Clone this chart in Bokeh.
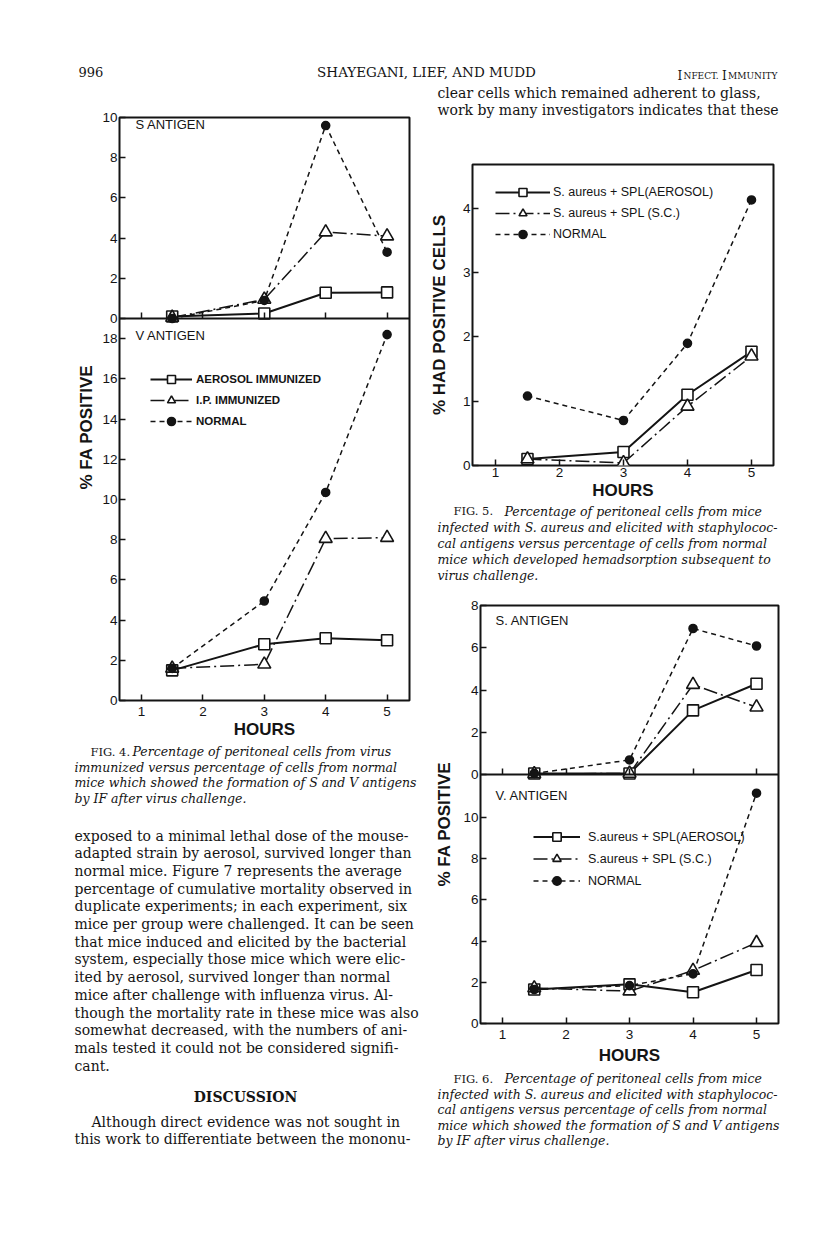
from bokeh.plotting import figure
from bokeh.models import Range1d, LinearAxis, FixedTicker, Legend, LegendItem, Label, Title, ColumnDataSource
from bokeh.layouts import column, row
from bokeh.embed import file_html
from bokeh.resources import INLINE
from bokeh.core.properties import value

# ---------------- data (read from the scanned page) ----------------
HOURS = [1.5, 3, 4, 5]
HOUR_TICKS = [1, 2, 3, 4, 5]

# Fig. 4 - % FA positive, virus immunized mice
FIG4_S_AEROSOL = [0.10, 0.25, 1.28, 1.30]
FIG4_S_IP = [0.05, 0.95, 4.30, 4.10]
FIG4_S_NORMAL = [0.00, 0.90, 9.60, 3.30]
FIG4_V_AEROSOL = [1.50, 2.80, 3.10, 3.00]
FIG4_V_IP = [1.60, 1.80, 8.05, 8.10]
FIG4_V_NORMAL = [1.60, 4.95, 10.35, 18.20]
FIG4_S_TICKS = [0, 2, 4, 6, 8, 10]
FIG4_V_TICKS = [0, 2, 4, 6, 8, 10, 12, 14, 16, 18]
FIG4_LABELS = ["AEROSOL IMMUNIZED", "I.P. IMMUNIZED", "NORMAL"]

# Fig. 5 - % HAD positive cells
FIG5_AEROSOL = [0.10, 0.21, 1.10, 1.77]
FIG5_SC = [0.10, 0.04, 0.92, 1.70]
FIG5_NORMAL = [1.08, 0.70, 1.90, 4.13]
FIG5_TICKS = [0, 1, 2, 3, 4]
FIG5_LABELS = ["S. aureus + SPL(AEROSOL)", "S. aureus + SPL (S.C.)", "NORMAL"]

# Fig. 6 - % FA positive, S. aureus infected mice
FIG6_S_AEROSOL = [0.05, 0.05, 3.04, 4.30]
FIG6_S_SC = [0.03, 0.05, 4.26, 3.19]
FIG6_S_NORMAL = [0.05, 0.69, 6.92, 6.09]
FIG6_V_AEROSOL = [1.65, 1.90, 1.52, 2.60]
FIG6_V_SC = [1.72, 1.57, 2.57, 3.92]
FIG6_V_NORMAL = [1.65, 1.84, 2.41, 11.18]
FIG6_S_TICKS = [0, 2, 4, 6, 8]
FIG6_V_TICKS = [0, 2, 4, 6, 8, 10]
FIG6_LABELS = ["S.aureus + SPL(AEROSOL)", "S.aureus + SPL (S.C.)", "NORMAL"]

# ---------------- page text ----------------
HEADER_LEFT = "996"
HEADER_MID = "SHAYEGANI, LIEF, AND MUDD"
# small-caps running head: (text, is_capital, x position on the page)
HEADER_RIGHT = [("I", True, 677.0), ("NFECT.", False, 683.0), ("I", True, 721.5), ("MMUNITY", False, 727.5)]

FIG4_CAPTION = [
    "Percentage of peritoneal cells from virus",
    "immunized versus percentage of cells from normal",
    "mice which showed the formation of S and V antigens",
    "by IF after virus challenge.",
]
LEFT_BODY = [
    "exposed to a minimal lethal dose of the mouse-",
    "adapted strain by aerosol, survived longer than",
    "normal mice. Figure 7 represents the average",
    "percentage of cumulative mortality observed in",
    "duplicate experiments; in each experiment, six",
    "mice per group were challenged. It can be seen",
    "that mice induced and elicited by the bacterial",
    "system, especially those mice which were elic-",
    "ited by aerosol, survived longer than normal",
    "mice after challenge with influenza virus. Al-",
    "though the mortality rate in these mice was also",
    "somewhat decreased, with the numbers of ani-",
    "mals tested it could not be considered signifi-",
    "cant.",
]
DISCUSSION_BODY = [
    "Although direct evidence was not sought in",
    "this work to differentiate between the mononu-",
]
RIGHT_TOP = [
    "clear cells which remained adherent to glass,",
    "work by many investigators indicates that these",
]
FIG5_CAPTION = [
    "Percentage of peritoneal cells from mice",
    "infected with S. aureus and elicited with staphylococ-",
    "cal antigens versus percentage of cells from normal",
    "mice which developed hemadsorption subsequent to",
    "virus challenge.",
]
FIG6_CAPTION = [
    "Percentage of peritoneal cells from mice",
    "infected with S. aureus and elicited with staphylococ-",
    "cal antigens versus percentage of cells from normal",
    "mice which showed the formation of S and V antigens",
    "by IF after virus challenge.",
]

# ---------------- styles ----------------
INK = "#141414"
SANS = "Liberation Sans"
SERIF = "DejaVu Serif"
STYLE = {
    "aerosol": dict(dash="solid", lw=2.0, marker="square", size=11, fill="white"),
    "ip": dict(dash="14 4 2 4", lw=1.5, marker="triangle", size=13, fill="white"),
    "normal": dict(dash="5 4", lw=1.5, marker="circle", size=8, fill=INK),
}


def chart(w, h, left, right, top, bottom, xr, yr):
    p = figure(width=w, height=h, x_range=Range1d(*xr), y_range=Range1d(*yr),
               x_axis_type=None, y_axis_type=None, toolbar_location=None,
               output_backend="svg", min_border_left=left, min_border_right=right,
               min_border_top=top, min_border_bottom=bottom)
    p.outline_line_color = INK
    p.outline_line_width = 2
    p.background_fill_color = "white"
    p.border_fill_color = "white"
    return p


def add_axis(p, place, ticks, range_name=None, fixed=None, label=None,
             label_standoff=2, tick_standoff=2, show_labels=True, line=False):
    kw = {}
    if range_name is not None:
        kw["y_range_name"] = range_name
    ax = LinearAxis(ticker=FixedTicker(ticks=ticks), **kw)
    if fixed is not None:
        ax.fixed_location = fixed
    ax.major_tick_in = 6
    ax.major_tick_out = 0
    ax.major_tick_line_color = INK
    ax.major_tick_line_width = 1.5
    ax.minor_tick_line_color = None
    if line:
        ax.axis_line_color = INK
        ax.axis_line_width = 2
    else:
        ax.axis_line_color = None
    ax.major_label_standoff = tick_standoff
    ax.major_label_text_font = SANS
    ax.major_label_text_font_size = "13.5px"
    ax.major_label_text_color = INK if show_labels else None
    if label:
        ax.axis_label = label
        ax.axis_label_standoff = label_standoff
        ax.axis_label_text_font = SANS
        ax.axis_label_text_font_size = "17px"
        ax.axis_label_text_font_style = "bold"
        ax.axis_label_text_color = INK
    p.add_layout(ax, place)
    return ax


def side_title(p, text, offset, standoff):
    """Vertical y-axis title placed outside the left axis, starting `offset`
    pixels above the bottom of the frame (the printed label is not centred)."""
    p.add_layout(Title(text=text, align="left", vertical_align="bottom", offset=offset,
                       standoff=standoff, text_font=SANS, text_font_size="17px",
                       text_font_style="bold", text_color=INK), "left")


def two_panel_left_axis(p, v_ticks, s_ticks, s_range_name):
    """One left axis for a two-panel frame: the lower panel's ticks are on the
    default range, the upper panel's ticks are mapped from the extra range."""
    vr = p.y_range
    sr = p.extra_y_ranges[s_range_name]
    s_pos = [round(vr.start + (s - sr.start) / (sr.end - sr.start) * (vr.end - vr.start), 6)
             for s in s_ticks]
    ax = add_axis(p, "left", [float(t) for t in v_ticks] + s_pos)
    ax.major_label_overrides = {pos: str(s) for pos, s in zip(s_pos, s_ticks)}
    return ax


def add_series(p, series, range_name="default"):
    srcs, lines, marks = {}, {}, {}
    for kind, ys in series:
        srcs[kind] = ColumnDataSource(data=dict(x=HOURS, y=ys))
        st = STYLE[kind]
        lines[kind] = p.line("x", "y", source=srcs[kind], line_color=INK,
                             line_width=st["lw"], line_dash=st["dash"],
                             y_range_name=range_name)
    for kind, ys in series:
        st = STYLE[kind]
        marks[kind] = p.scatter("x", "y", source=srcs[kind], marker=st["marker"],
                                size=st["size"], fill_color=st["fill"], line_color=INK,
                                line_width=1.6, y_range_name=range_name)
    return lines, marks


def add_legend(p, labels, lines, marks, loc, glyph_w, row_h, standoff, size, style):
    kinds = ["aerosol", "ip", "normal"]
    items = [LegendItem(label=lab, renderers=[lines[k], marks[k]]) for lab, k in zip(labels, kinds)]
    leg = Legend(items=items, location=loc, orientation="vertical",
                 background_fill_alpha=0, border_line_color=None, padding=0, margin=0,
                 spacing=1, glyph_width=glyph_w, glyph_height=row_h, label_height=row_h,
                 label_standoff=standoff, label_text_font=SANS, label_text_font_size=size,
                 label_text_font_style=style, label_text_color=INK, label_text_baseline="middle")
    p.add_layout(leg)


def panel_label(p, x, y, text, range_name="default"):
    p.add_layout(Label(x=x, y=y, y_range_name=range_name, text=text, text_font=SANS,
                       text_font_size="13px", text_baseline="middle", text_color=INK))


# ---------------- Fig. 4 ----------------
F4_X = (0.6417, 5.365)
fig4 = chart(424, 659, 119, 15, 31, 45, F4_X, (0, 29.0))
fig4.extra_y_ranges = {"s": Range1d(-19.0, 10.0)}
two_panel_left_axis(fig4, FIG4_V_TICKS, FIG4_S_TICKS, "s")
side_title(fig4, "% FA POSITIVE", 211, 7)
add_axis(fig4, "below", HOUR_TICKS, label="HOURS", label_standoff=1, tick_standoff=6)
add_axis(fig4, "below", HOUR_TICKS, range_name="s", fixed=0, show_labels=False, line=True)
l4v, m4v = add_series(fig4, [("aerosol", FIG4_V_AEROSOL), ("ip", FIG4_V_IP), ("normal", FIG4_V_NORMAL)])
add_series(fig4, [("aerosol", FIG4_S_AEROSOL), ("ip", FIG4_S_IP), ("normal", FIG4_S_NORMAL)], "s")
add_legend(fig4, FIG4_LABELS, l4v, m4v, (31, 269), 42, 20, 4, "11.5px", "bold")
panel_label(fig4, 0.902, 9.65, "S ANTIGEN", "s")
panel_label(fig4, 0.902, 18.16, "V ANTIGEN")

# ---------------- Fig. 5 ----------------
F5_X = (0.641, 5.344)
fig5 = chart(392, 383, 48, 43, 44, 38, F5_X, (0, 4.681))
add_axis(fig5, "left", FIG5_TICKS, label="% HAD POSITIVE CELLS", label_standoff=11)
add_axis(fig5, "below", HOUR_TICKS, label="HOURS", label_standoff=1, tick_standoff=2)
l5, m5 = add_series(fig5, [("aerosol", FIG5_AEROSOL), ("ip", FIG5_SC), ("normal", FIG5_NORMAL)])
add_legend(fig5, FIG5_LABELS, l5, m5, (23, 221), 55, 20, 3, "12.5px", "normal")

# ---------------- Fig. 6 ----------------
F6_X = (0.6535, 5.346)
fig6 = chart(392, 481, 56, 38, 17, 46, F6_X, (0, 20.29))
fig6.extra_y_ranges = {"s": Range1d(-11.8, 8.01)}
two_panel_left_axis(fig6, FIG6_V_TICKS, FIG6_S_TICKS, "s")
side_title(fig6, "% FA POSITIVE", 137, 14)
add_axis(fig6, "below", HOUR_TICKS, label="HOURS", label_standoff=4, tick_standoff=6)
add_axis(fig6, "below", HOUR_TICKS, range_name="s", fixed=0, show_labels=False, line=True)
l6v, m6v = add_series(fig6, [("aerosol", FIG6_V_AEROSOL), ("ip", FIG6_V_SC), ("normal", FIG6_V_NORMAL)])
add_series(fig6, [("aerosol", FIG6_S_AEROSOL), ("ip", FIG6_S_SC), ("normal", FIG6_S_NORMAL)], "s")
add_legend(fig6, FIG6_LABELS, l6v, m6v, (53, 132), 47, 21, 8, "12.5px", "normal")
panel_label(fig6, 0.89, 7.3, "S. ANTIGEN", "s")
panel_label(fig6, 0.89, 11.07, "V. ANTIGEN")


# ---------------- text panels (page pixel coordinates) ----------------
def text_panel(x0, x1, y0, y1, items):
    p = figure(width=x1 - x0, height=y1 - y0, x_range=Range1d(x0, x1), y_range=Range1d(y1, y0),
               x_axis_type=None, y_axis_type=None, toolbar_location=None,
               output_backend="svg", min_border=0)
    p.outline_line_color = None
    p.background_fill_color = "white"
    p.border_fill_color = "white"
    for it in items:
        x, y, txt, font, size, style, align = it[:7]
        baseline = it[7] if len(it) > 7 else "middle"
        p.text(x=[x], y=[y], text=[txt], text_font=value(font), text_font_size=value(size),
               text_font_style=style, text_align=align, text_baseline=baseline, text_color=INK)
    return p


def caption_items(fig_no, lines, x_fig, x_first, x_left, y0, dy):
    items = [(x_fig, y0, "FIG. %d." % fig_no, SERIF, "11.5px", "normal", "left")]
    for i, t in enumerate(lines):
        items.append((x_first if i == 0 else x_left, y0 + i * dy, t, SERIF, "12.5px", "italic", "left"))
    return items


head_items = [
    (78, 71, HEADER_LEFT, SERIF, "13px", "normal", "left"),
    (426, 71, HEADER_MID, SERIF, "13.5px", "normal", "center"),
]
for piece, is_cap, hx in HEADER_RIGHT:
    head_items.append((hx, 75.5, piece, SERIF, "12px" if is_cap else "9px", "normal", "left", "alphabetic"))
header = text_panel(0, 816, 0, 86, head_items)

left_items = caption_items(4, FIG4_CAPTION, 90, 132, 74, 751, 15.5)
for i, t in enumerate(LEFT_BODY):
    left_items.append((74, 835 + i * 17.7, t, SERIF, "14px", "normal", "left"))
left_items.append((245, 1096, "DISCUSSION", SERIF, "14px", "bold", "center"))
for i, t in enumerate(DISCUSSION_BODY):
    left_items.append((91 if i == 0 else 74, 1121 + i * 17.6, t, SERIF, "14px", "normal", "left"))
left_text = text_panel(0, 424, 745, 1236, left_items)

right_top = text_panel(424, 816, 86, 120, [
    (437, 92 + i * 17.2, t, SERIF, "14px", "normal", "left") for i, t in enumerate(RIGHT_TOP)
])
cap5 = text_panel(424, 816, 503, 588, caption_items(5, FIG5_CAPTION, 453, 504, 437, 510.5, 16))
cap6 = text_panel(424, 816, 1069, 1236, caption_items(6, FIG6_CAPTION, 453, 504, 437, 1078, 15.6))

# each panel sits in its own row so that the column does not align plot borders
left_col = column(row(fig4), row(left_text), spacing=0)
right_col = column(row(right_top), row(fig5), row(cap5), row(fig6), row(cap6), spacing=0)
page = column(row(header), row(left_col, right_col, spacing=0), spacing=0)

open("out.html", "w").write(file_html(page, INLINE, title="Fig. 4-6"))
